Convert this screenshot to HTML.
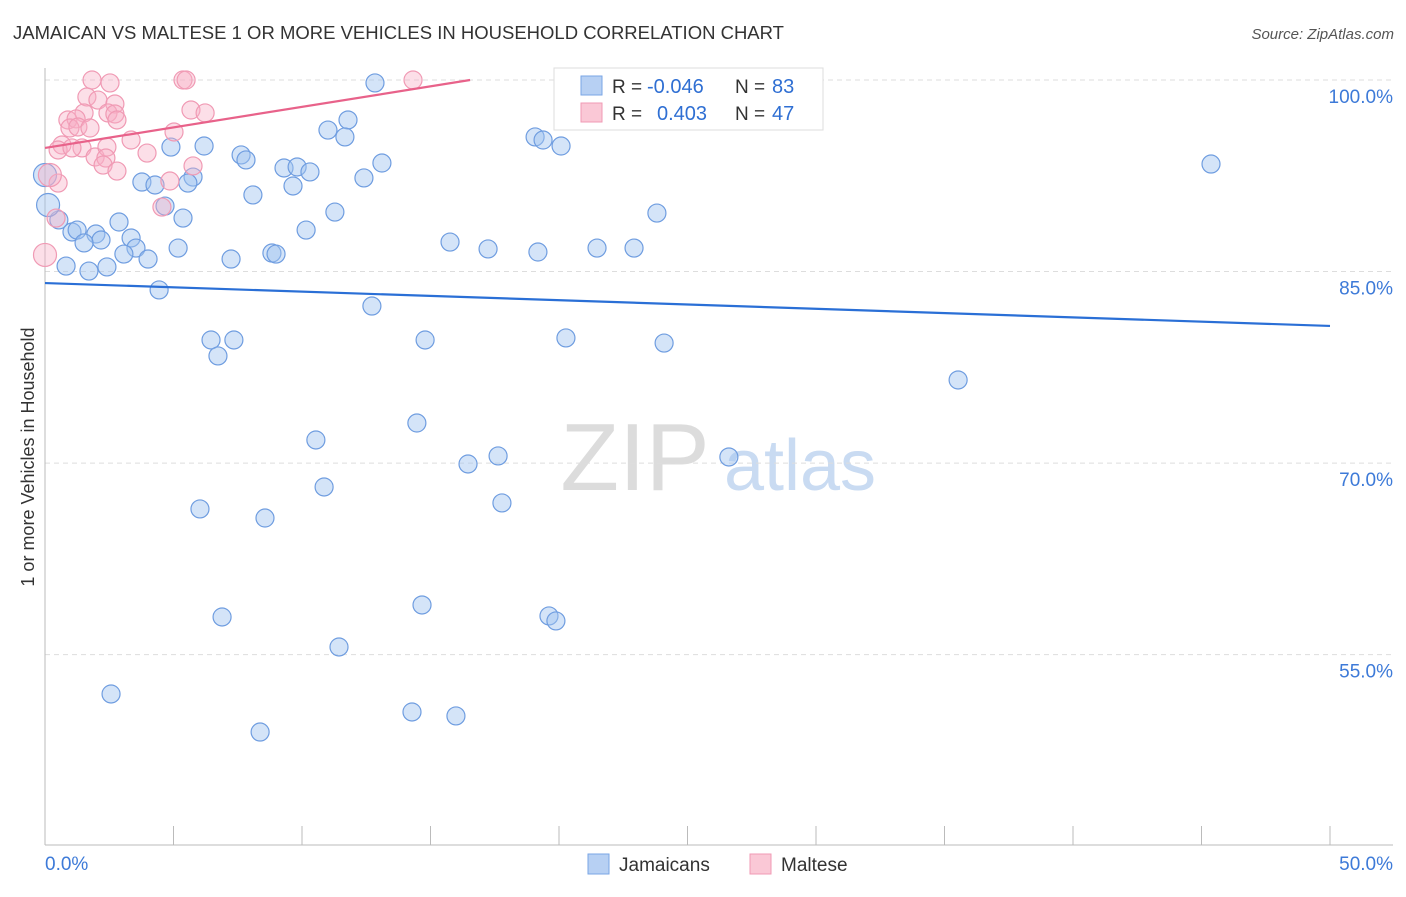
<!DOCTYPE html>
<html><head><meta charset="utf-8"><style>
body{margin:0;background:#fff;font-family:"Liberation Sans",sans-serif}
svg text{font-family:"Liberation Sans",sans-serif}
</style></head><body>
<svg id="chart" width="1406" height="892" xmlns="http://www.w3.org/2000/svg">
<text x="13" y="39" font-size="18.5" fill="#333">JAMAICAN VS MALTESE 1 OR MORE VEHICLES IN HOUSEHOLD CORRELATION CHART</text>
<text x="1394" y="39" font-size="15" fill="#555" text-anchor="end" font-style="italic">Source: ZipAtlas.com</text>
<text transform="translate(34,457) rotate(-90)" font-size="18" fill="#333" text-anchor="middle">1 or more Vehicles in Household</text>
<g>
<text x="635" y="490" font-size="96" fill="#dcdcdc" font-family="Liberation Serif,serif" text-anchor="middle">ZIP</text>
<text x="800" y="490" font-size="72" fill="#c9dbf2" text-anchor="middle">atlas</text>
</g>
<g id="grid"></g><g id="axes"></g><g id="marks"></g><g id="lines"></g>
<g>
<rect x="554" y="68" width="269" height="62" fill="#fff" stroke="#ddd"/>
<rect x="581" y="76" width="21" height="19" fill="#b7d0f3" stroke="#7aa6e6"/>
<rect x="581" y="103" width="21" height="19" fill="#fac8d6" stroke="#f09ab4"/>
<text x="612" y="93" font-size="19" fill="#333">R =</text>
<text x="647" y="93" font-size="20" fill="#2f6fd3">-0.046</text>
<text x="735" y="93" font-size="19" fill="#333">N =</text>
<text x="772" y="93" font-size="20" fill="#2f6fd3">83</text>
<text x="612" y="120" font-size="19" fill="#333">R =</text>
<text x="657" y="120" font-size="20" fill="#2f6fd3">0.403</text>
<text x="735" y="120" font-size="19" fill="#333">N =</text>
<text x="772" y="120" font-size="20" fill="#2f6fd3">47</text>
</g>
<g>
<rect x="588" y="854" width="21" height="20" fill="#b7d0f3" stroke="#7aa6e6"/>
<text x="619" y="871" font-size="19" fill="#333">Jamaicans</text>
<rect x="750" y="854" width="21" height="20" fill="#fac8d6" stroke="#f09ab4"/>
<text x="781" y="871" font-size="19" fill="#333">Maltese</text>
</g>
</svg>
<script>
const yTicks=[100,85,70,55];
const yTickLabels=["100.0%","85.0%","70.0%","55.0%"];
const xTickVals=[0,5,10,15,20,25,30,35,40,45,50];
const blueX=[12.84,27.24,28.29,45.37,11.01,11.79,11.67,19.07,19.38,20.08,6.19,4.90,7.63,7.82,9.30,9.81,10.31,13.11,12.41,9.65,5.76,5.56,3.77,4.28,8.09,4.67,11.28,23.81,5.37,2.88,0.54,1.05,1.25,1.98,2.18,1.52,3.35,3.54,3.07,4.01,5.18,10.16,15.76,17.24,19.18,21.48,22.92,7.24,8.83,8.99,0.82,1.71,2.41,4.44,12.72,6.46,7.35,6.73,14.79,20.27,24.09,35.53,10.54,14.47,16.46,17.63,26.61,10.86,17.78,6.03,8.56,6.89,14.67,19.61,19.88,11.44,2.57,14.28,15.99,8.37,0,0.12];
const blueY=[99.77,100,100,93.42,96.08,96.87,95.54,95.54,95.30,94.83,94.83,94.75,94.13,93.74,93.11,93.19,92.80,93.50,92.33,91.70,92.40,91.93,92.01,91.78,91.00,90.13,89.66,89.58,89.19,88.88,89.04,88.10,88.25,87.94,87.47,87.24,87.63,86.84,86.37,85.98,86.84,88.25,87.31,86.77,86.53,86.84,86.84,85.98,86.45,86.37,85.43,85.04,85.36,83.56,82.30,79.64,79.64,78.39,79.64,79.80,79.40,76.51,71.81,73.14,69.93,70.56,70.48,68.13,66.88,66.41,65.70,57.95,58.89,58.03,57.64,55.60,51.92,50.51,50.20,48.94,92.56,90.21];
const pinkX=[1.83,2.53,5.37,5.49,14.32,1.63,2.06,2.72,1.52,2.45,2.72,5.68,6.23,0.89,1.21,0.97,1.28,1.75,2.80,5.02,3.35,0.66,0.51,1.44,1.95,2.41,2.37,2.26,3.97,2.80,5.76,4.86,4.55,0.51,0.19,0.43,0,1.05];
const pinkY=[100,99.77,100,100,100,98.67,98.43,98.12,97.42,97.42,97.34,97.65,97.42,96.87,96.95,96.24,96.32,96.24,96.87,95.93,95.30,94.91,94.52,94.68,93.97,94.75,93.89,93.34,94.28,92.87,93.27,92.09,90.05,91.93,92.56,89.19,86.30,94.68];
const blueTrend=[[0,84.1],[50,80.74]];
const pinkTrend=[[0,94.68],[16.54,100]];
const NS="http://www.w3.org/2000/svg";
const X=v=>45+v*25.7, Y=v=>80+(100-v)*12.77;
function mk(tag,attrs,parent){const e=document.createElementNS(NS,tag);for(const k in attrs)e.setAttribute(k,attrs[k]);document.getElementById(parent).appendChild(e);return e;}
yTicks.forEach((t,i)=>{
 const l=mk('line',{x1:45,x2:1393,y1:Y(t),y2:Y(t),stroke:'#ddd','stroke-dasharray':'5,4'},'grid');
 
 
 const tx=mk('text',{x:1393,y:Y(t)+23,'font-size':19,fill:'#3d7ad8','text-anchor':'end'},'grid');
 tx.textContent=yTickLabels[i];
 
 
});
const ax=mk('line',{x1:45,x2:1393,y1:845,y2:845,stroke:'#bbb'},'axes');


const ay=mk('line',{x1:45,x2:45,y1:68,y2:845,stroke:'#bbb'},'axes');


xTickVals.forEach(v=>{const t=mk('line',{x1:X(v),x2:X(v),y1:826,y2:845,stroke:'#bbb'},'axes');
 
 });
const xl0=mk('text',{x:45,y:870,'font-size':19,fill:'#3d7ad8'},'axes');xl0.textContent="0.0%";


const xl1=mk('text',{x:1393,y:870,'font-size':19,fill:'#3d7ad8','text-anchor':'end'},'axes');xl1.textContent="50.0%";


function pts(xs,ys,fill,stroke,name){xs.forEach((x,i)=>{const big=x<0.2;
 const c=mk('circle',{cx:X(x),cy:Y(ys[i]),r:big?11.5:9,fill:fill,stroke:stroke,'stroke-width':1.2},'marks');
 
 });}
pts(blueX,blueY,'rgba(160,196,240,0.45)','#6f9de0','jamaican-point');
pts(pinkX,pinkY,'rgba(248,175,198,0.4)','#f09ab4','maltese-point');
const bl=mk('line',{x1:X(blueTrend[0][0]),y1:Y(blueTrend[0][1]),x2:X(blueTrend[1][0]),y2:Y(blueTrend[1][1]),stroke:'#2a6fd6','stroke-width':2.2},'lines');


const pl=mk('line',{x1:X(pinkTrend[0][0]),y1:Y(pinkTrend[0][1]),x2:X(pinkTrend[1][0]),y2:Y(pinkTrend[1][1]),stroke:'#e8628a','stroke-width':2.2},'lines');


</script>
</body></html>
